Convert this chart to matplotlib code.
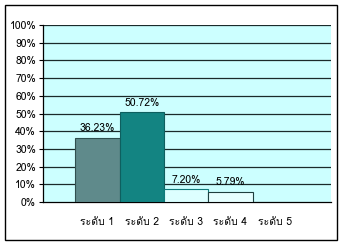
import matplotlib
matplotlib.use('Agg')
import matplotlib.pyplot as plt
from matplotlib.patches import Rectangle

# data
categories = ['ระดับ 1', 'ระดับ 2', 'ระดับ 3', 'ระดับ 4', 'ระดับ 5']
values = [36.23, 50.72, 7.20, 5.79, 0.0]
value_labels = ['36.23%', '50.72%', '7.20%', '5.79%', '']
bar_colors = ['#5F8A8B', '#138482', '#DDFFFF', '#E6FFFF', '#FFFFFF']
edge_colors = ['#2F4F4F', '#0E5F5F', '#117A7A', '#1F3F3F', '#000000']
yticks = [0, 10, 20, 30, 40, 50, 60, 70, 80, 90, 100]

# narrow latin font first, Thai glyphs fall back to Loma
plt.rcParams['font.family'] = ['Liberation Sans Narrow', 'Loma', 'DejaVu Sans']

fig = plt.figure(figsize=(3.42, 2.46), dpi=100)
fig.patch.set_facecolor('white')

# outer chart border
fig.patches.append(Rectangle((5 / 342, 6 / 246), 332 / 342, 235 / 246,
                             transform=fig.transFigure, fill=False,
                             edgecolor='black', linewidth=1.0))

ax = fig.add_axes([43 / 342, 1 - 202 / 246, 288 / 342, 177 / 246])
ax.set_facecolor('#CCFFFF')

x = list(range(len(categories)))
for i in x:
    if values[i] > 0:
        ax.bar(i, values[i], width=1.0, color=bar_colors[i],
               edgecolor=edge_colors[i], linewidth=0.8, zorder=3)
        ax.text(i, values[i] + 2.5, value_labels[i], ha='center', va='bottom',
                fontsize=7.5, zorder=4)

for t in yticks[1:]:
    ax.axhline(t, color='#1A2A2A', linewidth=0.9, zorder=2)

ax.set_xlim(-1.23, 5.27)
ax.set_ylim(0, 100)
ax.set_yticks(yticks)
ax.set_yticklabels([f'{t}%' for t in yticks], fontsize=7.5)
ax.set_xticks(x)
ax.set_xticklabels(categories, fontsize=7.5)
ax.tick_params(axis='x', length=0, pad=11)
ax.tick_params(axis='y', length=3, width=0.8, pad=2)

for s in ['top', 'right']:
    ax.spines[s].set_visible(False)
ax.spines['left'].set_linewidth(0.9)
ax.spines['bottom'].set_linewidth(0.9)

fig.savefig('out.png', dpi=100)
